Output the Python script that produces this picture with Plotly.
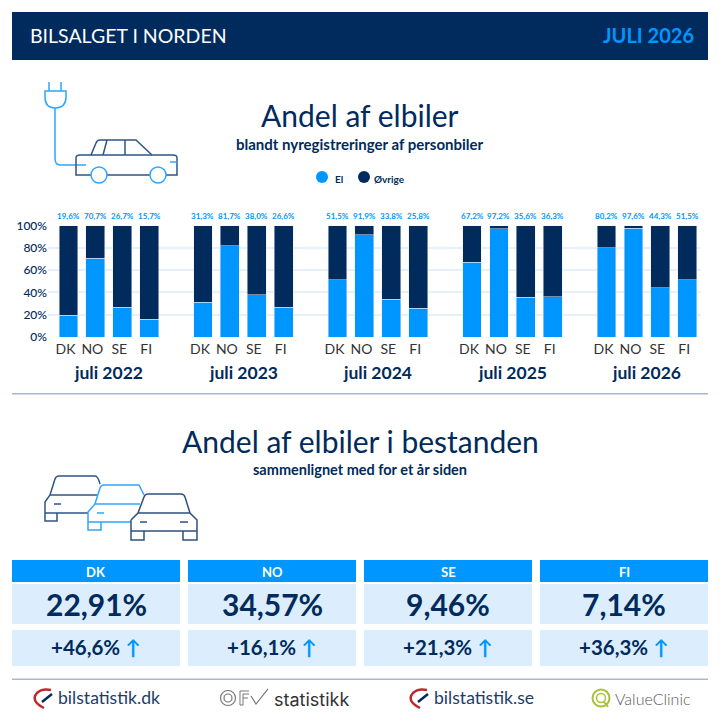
#!/usr/bin/env python3

import re
import plotly.graph_objects as go

NAVY = "#002b5c"
BLUE = "#0096ff"
PALE = "#dceefd"
GRID = "#e4f1fc"
RULE = "#a9b8cc"
FONT = "Lato, 'Open Sans', sans-serif"

years = ["juli 2022", "juli 2023", "juli 2024", "juli 2025", "juli 2026"]
countries = ["DK", "NO", "SE", "FI"]
el_2022 = [19.6, 70.7, 26.7, 15.7]
el_2023 = [31.3, 81.7, 38.0, 26.6]
el_2024 = [51.5, 91.9, 33.8, 25.8]
el_2025 = [67.2, 97.2, 35.6, 36.3]
el_2026 = [80.2, 97.6, 44.3, 51.5]
y_ticks = [0, 20, 40, 60, 80, 100]
stock_share = ["22,91%", "34,57%", "9,46%", "7,14%"]
stock_change = ["+46,6%", "+16,1%", "+21,3%", "+36,3%"]

el_values = el_2022 + el_2023 + el_2024 + el_2025 + el_2026
other_values = [round(100 - v, 1) for v in el_values]
# one empty slot between the years
positions = [g * 5 + c for g in range(len(years)) for c in range(len(countries))]
tick_names = countries * len(years)
value_labels = [f"{v:.1f}".replace(".", ",") + "%" for v in el_values]


def fx(x):
    return x / 720


def fy(y):
    return 1 - y / 720


def to_paper(d):
    # pixel path -> paper path
    out = []
    is_x = True
    for tok in re.findall(r"[A-Za-z]|-?[\d.]+", d):
        if tok.isalpha():
            out.append(tok)
        else:
            out.append(f"{fx(float(tok)):.5f}" if is_x else f"{fy(float(tok)):.5f}")
            is_x = not is_x
    return " ".join(out)


shapes = []
annotations = []


def rect(x0, y0, x1, y1, color):
    shapes.append(dict(type="rect", xref="paper", yref="paper", x0=fx(x0), x1=fx(x1),
                       y0=fy(y0), y1=fy(y1), fillcolor=color, line_width=0, layer="below"))


def line(d, color, width=1.5):
    shapes.append(dict(type="path", xref="paper", yref="paper", path=to_paper(d),
                       line=dict(color=color, width=width)))


def circle(cx, cy, r, color=None, fill=None, width=1.5):
    shapes.append(dict(type="circle", xref="paper", yref="paper",
                       x0=fx(cx - r), x1=fx(cx + r), y0=fy(cy + r), y1=fy(cy - r),
                       fillcolor=fill or "rgba(0,0,0,0)",
                       line=dict(color=color or "rgba(0,0,0,0)", width=width)))


def label(x, y, text, size, color=NAVY, weight=400, anchor="center", family=FONT):
    # annotations carry a small padding, take it back for the anchored ones
    nudge = {"left": -2, "right": 2, "center": 0}[anchor]
    annotations.append(dict(x=fx(x + nudge), y=fy(y), xref="paper", yref="paper", text=text,
                            showarrow=False, xanchor=anchor, yanchor="middle",
                            font=dict(family=family, size=size, color=color, weight=weight)))


# header
rect(12, 12, 708, 60, NAVY)
label(30, 35, "BILSALGET I NORDEN", 19.5, "#ffffff", anchor="left")
label(694, 35, "JULI 2026", 20, BLUE, 700, anchor="right")

# titles
label(360, 115, "Andel af elbiler", 30)
label(360, 144, "blandt nyregistreringer af personbiler", 15, weight=700)
circle(322, 177, 6, fill=BLUE)
label(335, 179, "El", 10, weight=700, anchor="left")
circle(364, 177, 6, fill=NAVY)
label(374, 179, "Øvrige", 10, weight=700, anchor="left")

# plug and car
line("M 49 82 L 49 91 M 61 82 L 61 91 M 45 91 L 66 91 L 66 97 Q 66 108 55 108 Q 45 108 45 97 Z", "#2ea6ff")
line("M 55 108 L 55 158 Q 55 165 60 165 L 86 165", "#2ea6ff")
line("M 91 175 L 76 175 L 76 158 Q 76 155 80 155 L 91 155 L 96 143 Q 97 140 100 140 L 136 140 "
     "L 152 155 L 173 155 Q 177 155 177 158 L 177 175 L 166 175 M 107 175 L 150 175", "#2f5685")
line("M 107 140 L 103 155 L 152 155 M 125 140 L 125 155 M 91 155 L 103 155", "#2f5685")
line("M 170 162 L 177 162", "#2ea6ff")
circle(99, 175, 8, "#2ea6ff")
circle(158, 175, 8, "#2ea6ff")

# first divider and second block
rect(12, 393, 708, 394.5, RULE)
label(360, 441, "Andel af elbiler i bestanden", 30)
label(360, 469, "sammenlignet med for et år siden", 14.5, weight=700)

# three cars
line("M 88 513 L 45 513 L 45 502 L 50 495 L 55 479 Q 56 476 59 476 L 95 476 Q 98 476 100 484 "
     "M 50 495 L 97 495 M 54 504 L 61 504 M 45 513 L 45 521 L 57 521 L 57 513", "#2f5685")
line("M 131 522 L 88 522 L 88 512 L 95 504 L 100 488 Q 101 485 104 485 L 139 485 L 144 495 "
     "M 95 504 L 140 504 M 97 513 L 104 513 M 88 522 L 88 530 L 101 530 L 101 522", "#2ea6ff")
line("M 131 520 L 131 531 L 197 531 L 197 520 L 190 513 L 185 497 Q 184 494 181 494 L 148 494 "
     "Q 145 494 144 497 L 138 513 L 131 520 M 138 513 L 190 513 M 140 522 L 147 522 M 180 522 L 188 522 "
     "M 131 531 L 131 540 L 144 540 L 144 531 M 183 531 L 183 540 L 197 540 L 197 531", "#2f4f7c")

# country panels
for i, name in enumerate(countries):
    left = 12 + i * 176
    rect(left, 560, left + 168, 582, BLUE)
    rect(left, 584, left + 168, 624, PALE)
    rect(left, 630, left + 168, 666, PALE)
    label(left + 84, 572, name, 13, "#ffffff", 700)
    label(left + 84, 604, stock_share[i], 30, weight=700)
    label(left + 84, 647, f"{stock_change[i]} <span style='color:{BLUE};font-weight:700'>↑</span>", 20.5, weight=700)

# footer
rect(12, 678.5, 708, 680, RULE)


def gauge(x):
    line(f"M {x + 10} 708 Q {x - 4} 701 {x + 3} 693 Q {x + 8} 688 {x + 17} 690", "#c0272d", 2.5)
    line(f"M {x + 8} 702 L {x + 18} 694", NAVY, 2.5)


gauge(34)
label(58, 697, "bilstatistik.dk", 17.6, "#1d3d69", anchor="left")
gauge(410)
label(434, 697, "bilstatistik.se", 17.6, "#1d3d69", anchor="left")

circle(228, 698, 7.5, "#777777", width=1.2)
circle(228, 698, 4, "#777777", width=1.2)
line("M 249 691 L 240 691 L 240 705 L 243 705 L 243 694 L 249 694 M 243 698 L 248 698", "#777777", 1)
line("M 251 696 L 256 704 L 268 689", "#777777", 1.2)
label(274, 699, "statistikk", 18, "#333333", 400, anchor="left", family="Inter, Lato, sans-serif")

circle(601, 698, 8.5, "#a6c23a", width=2)
circle(601, 698, 4.5, "#a6c23a", width=1.5)
line("M 604 702 L 608 707", "#a6c23a", 2)
label(615, 698, "ValueClinic", 16, "#5a5a5a", 300, anchor="left")

# year captions under the bars
for g, year in enumerate(years):
    annotations.append(dict(x=g * 5 + 1.5, y=fy(372), xref="x", yref="paper", text=year,
                            showarrow=False, yanchor="middle",
                            font=dict(family=FONT, size=17.5, color=NAVY, weight=700)))

# share labels above the bars
for pos, text in zip(positions, value_labels):
    annotations.append(dict(x=pos, y=fy(216), xref="x", yref="paper", text=text,
                            showarrow=False, yanchor="middle",
                            font=dict(family=FONT, size=8, color=BLUE, weight=700)))

fig = go.Figure()
fig.add_trace(go.Bar(x=positions, y=el_values, name="El", marker_color=BLUE, width=0.7))
fig.add_trace(go.Bar(x=positions, y=other_values, name="Øvrige", marker_color=NAVY, width=0.7))

fig.update_layout(
    barmode="stack",
    width=720,
    height=720,
    autosize=False,
    showlegend=False,
    margin=dict(l=0, r=0, t=0, b=0),
    paper_bgcolor="#ffffff",
    plot_bgcolor="#ffffff",
    shapes=shapes,
    annotations=annotations,
    font=dict(family=FONT),
    xaxis=dict(
        domain=[fx(48), fx(700.7)],
        range=[-0.76, 23.5],
        automargin=False,
        tickmode="array",
        tickvals=positions,
        ticktext=tick_names,
        tickfont=dict(size=14, color="#333333"),
        ticklabelshift=-3,
        ticklabelstandoff=2,
        showgrid=False,
        zeroline=False,
        ticks="",
    ),
    yaxis=dict(
        domain=[fy(337), fy(225.5)],
        range=[0, 100],
        automargin=False,
        tickmode="array",
        tickvals=y_ticks,
        ticktext=[f"{v}%" for v in y_ticks],
        tickfont=dict(size=12, color=NAVY, weight=500),
        gridcolor=GRID,
        gridwidth=1.5,
        zeroline=False,
        ticks="",
    ),
)

fig.write_html("out.html", config={"displayModeBar": False},
               post_script="document.body.style.margin='0';")
